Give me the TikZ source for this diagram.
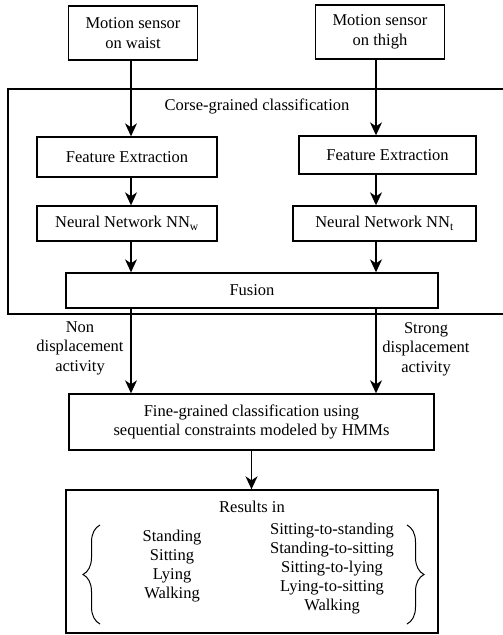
\documentclass[tikz,border=0pt]{standalone}
\usepackage{fontspec}
\setmainfont{Liberation Serif}
\usetikzlibrary{positioning,arrows.meta,decorations.pathreplacing}

\begin{document}
\begin{tikzpicture}[x=1pt, y=-1pt, line width=1.4pt,
    sensor/.style={rectangle, draw, minimum width=129pt, minimum height=54pt, text centered, align=center, font=\fontsize{16.5}{19.5}\selectfont},
    stage/.style={rectangle, draw, minimum width=180pt, minimum height=37pt, text centered, align=center, font=\fontsize{16.5}{19.5}\selectfont},
    txt/.style={align=center, font=\fontsize{16.5}{19.5}\selectfont},
    listing/.style={align=center, font=\fontsize{16.5}{19}\selectfont},
    flow/.style={-{Stealth[length=13pt, width=12pt, inset=4pt]}, line width=1.4pt},
    curly/.style={decorate, decoration={brace, amplitude=17pt}, line width=1pt}]

\useasboundingbox (0,0) rectangle (503,635);

% Sensors
\node[sensor] (waist) at (133,33) {Motion sensor\\on waist};
\node[sensor] (thigh) at (380,32) {Motion sensor\\on thigh};

% Coarse-grained stage
\node[draw, minimum width=502pt, minimum height=225pt] (coarse) at (259,201.5) {};
\node[txt] (coarsetitle) at (257,106) {Corse-grained classification};

\node[stage, minimum height=40pt] (fe1) at (127,157) {Feature Extraction};
\node[stage, minimum width=177pt, minimum height=38pt] (fe2) at (387.5,155) {Feature Extraction};
\node[stage, minimum height=35pt] (nn1) at (127,223.5) {Neural Network NN\textsubscript{w}};
\node[stage, minimum width=183pt, minimum height=35pt] (nn2) at (384.5,223.5) {Neural Network NN\textsubscript{t}};
\node[stage, minimum width=372pt, minimum height=35pt] (fusion) at (252,290.5) {Fusion};

% Fine-grained stage
\node[txt] (nonlabel) at (80,348) {Non\\displacement\\activity};
\node[txt] (stronglabel) at (426,349) {Strong\\displacement\\activity};
\node[stage, minimum width=365pt, minimum height=56pt] (fine) at (251.5,422) {Fine-grained classification using\\sequential constraints modeled by HMMs};

% Results
\node[stage, minimum width=372pt, minimum height=143pt] (results) at (252,561.5) {};
\node[txt] (resultstitle) at (252,507) {Results in};
\node[listing] (static) at (172,566) {Standing\\Sitting\\Lying\\Walking};
\node[listing] (dynamic) at (332,569) {Sitting-to-standing\\Standing-to-sitting\\Sitting-to-lying\\Lying-to-sitting\\Walking};

\coordinate (lbrace1) at (100,624);
\coordinate (lbrace2) at (100,525);
\coordinate (rbrace1) at (407,525);
\coordinate (rbrace2) at (407,624);
\draw[curly] (lbrace1) -- (lbrace2);
\draw[curly] (rbrace1) -- (rbrace2);

% Connections
\coordinate (lcol) at (131,0);
\coordinate (rcol) at (376,0);
\draw[flow] (waist.south -| lcol) -- (fe1.north -| lcol);
\draw[flow] (thigh.south -| rcol) -- (fe2.north -| rcol);
\draw[flow] (fe1.south -| lcol) -- (nn1.north -| lcol);
\draw[flow] (fe2.south -| rcol) -- (nn2.north -| rcol);
\draw[flow] (nn1.south -| lcol) -- (fusion.north -| lcol);
\draw[flow] (nn2.south -| rcol) -- (fusion.north -| rcol);
\draw[flow] (fusion.south -| lcol) -- (fine.north -| lcol);
\draw[flow] (fusion.south -| rcol) -- (fine.north -| rcol);
\draw[flow] (fine.south) -- (fine.south |- results.north);

\end{tikzpicture}
\end{document}
